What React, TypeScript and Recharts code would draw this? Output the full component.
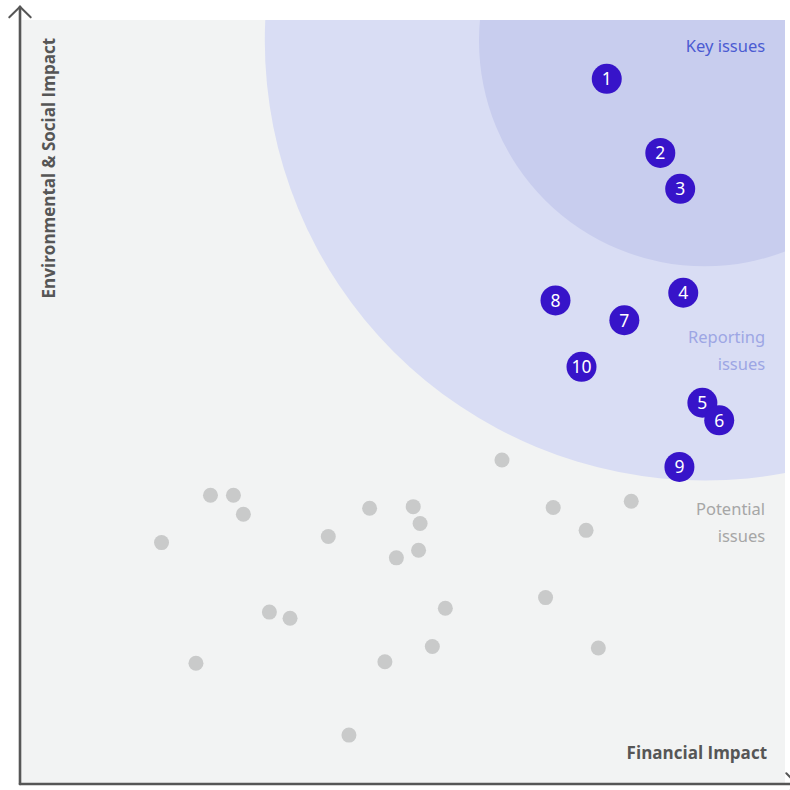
import {
  CartesianGrid,
  ReferenceLine,
  Scatter,
  ScatterChart,
  XAxis,
  YAxis,
} from "recharts";

const CHART_W = 790;
const CHART_H = 790;
const MARGIN = { top: 20, right: 5, bottom: 6, left: 20 };
const X_MAX = 100;
const Y_MAX = 100;
const PX_PER_UNIT = (CHART_W - MARGIN.left - MARGIN.right) / X_MAX;

// numbered material issues
const issueIds = [1, 2, 3, 4, 5, 6, 7, 8, 9, 10];
const issueFinancial = [76.7, 83.7, 86.3, 86.7, 89.2, 91.4, 79.0, 70.0, 86.2, 73.4];
const issueEnvSocial = [92.3, 82.6, 77.9, 64.3, 49.9, 47.6, 60.7, 63.3, 41.5, 54.6];

// un-numbered potential issues
const potentialFinancial = [
  63.0, 24.9, 27.9, 29.2, 18.5, 40.3, 45.7, 51.4, 52.3, 52.1, 49.2, 32.6,
  35.3, 23.0, 47.7, 53.9, 55.6, 69.7, 79.9, 74.0, 68.7, 75.6, 43.0,
];
const potentialEnvSocial = [
  42.4, 37.8, 37.8, 35.3, 31.6, 32.4, 36.1, 36.3, 34.1, 30.6, 29.6, 22.5,
  21.7, 15.8, 16.0, 18.0, 23.0, 36.2, 37.0, 33.2, 24.4, 17.8, 6.4,
];

// concentric zones around the top-right corner
const ringCenter = { x: 89.5, y: 97.3 };
const ringRadii = [57.5, 29.5]; // reporting zone, key zone

const zoneNames = [["Key issues"], ["Reporting", "issues"], ["Potential", "issues"]];
const zoneLabelX = [97.4, 97.4, 97.4];
const zoneLabelY = [95.8, 57.7, 35.2];

const axisTitles = ["Environmental & Social Impact", "Financial Impact"];
const axisTitleX = [4.6, 97.65];
const axisTitleY = [97.65, 3.3];

const ringColors = ["#d9ddf4", "#c8cdee"];
const zoneColors = ["#4b5bd2", "#9da6e4", "#a6a6a6"];
const AXIS_COLOR = "#565656";
const FONT = "'Noto Sans', 'Open Sans', sans-serif";

const issues = issueIds.map((id, i) => ({
  id,
  x: issueFinancial[i],
  y: issueEnvSocial[i],
}));
const potential = potentialFinancial.map((x, i) => ({ x, y: potentialEnvSocial[i] }));
const rings = ringRadii.map((r, i) => ({ x: ringCenter.x, y: ringCenter.y, r, idx: i }));
const zoneLabels = zoneNames.map((lines, i) => ({
  x: zoneLabelX[i],
  y: zoneLabelY[i],
  lines,
  idx: i,
}));
const titles = axisTitles.map((t, i) => ({ x: axisTitleX[i], y: axisTitleY[i], t, idx: i }));

// axis lines + arrow heads, in data units
const axisSegments = [
  { pts: [{ x: 0, y: 0 }, { x: 0, y: 101.74 }], w: 2.6 },
  { pts: [{ x: -1.4, y: 100.35 }, { x: 0, y: 101.74 }], w: 2 },
  { pts: [{ x: 1.4, y: 100.35 }, { x: 0, y: 101.74 }], w: 2 },
  { pts: [{ x: 0, y: 0 }, { x: 101.57, y: 0 }], w: 2.6 },
  { pts: [{ x: 100.17, y: 1.4 }, { x: 101.57, y: 0 }], w: 2 },
  { pts: [{ x: 100.17, y: -1.4 }, { x: 101.57, y: 0 }], w: 2 },
];

export default function App() {
  return (
    <div style={{ position: "absolute", left: 0, top: 0, background: "#fff" }}>
      <ScatterChart width={CHART_W} height={CHART_H} margin={MARGIN}>
        <CartesianGrid fill="#f2f3f3" horizontal={false} vertical={false} />
        <XAxis type="number" dataKey="x" domain={[0, X_MAX]} allowDataOverflow hide />
        <YAxis type="number" dataKey="y" domain={[0, Y_MAX]} allowDataOverflow hide />

        <Scatter
          data={rings}
          isAnimationActive={false}
          shape={(p: any) => (
            <circle
              cx={p.cx}
              cy={p.cy}
              r={p.payload.r * PX_PER_UNIT}
              fill={ringColors[p.payload.idx]}
            />
          )}
        />

        <Scatter
          data={potential}
          isAnimationActive={false}
          shape={(p: any) => <circle cx={p.cx} cy={p.cy} r={7.5} fill="#c9caca" />}
        />

        <Scatter
          data={issues}
          isAnimationActive={false}
          shape={(p: any) => (
            <g>
              <circle cx={p.cx} cy={p.cy} r={15} fill="#3714c9" />
              <text
                x={p.cx}
                y={p.cy}
                dy="0.36em"
                textAnchor="middle"
                fill="#fff"
                fontSize={17.5}
                fontFamily={FONT}
              >
                {p.payload.id}
              </text>
            </g>
          )}
        />

        <Scatter
          data={zoneLabels}
          isAnimationActive={false}
          shape={(p: any) => (
            <text
              x={p.cx}
              y={p.cy}
              textAnchor="end"
              fill={zoneColors[p.payload.idx]}
              fontSize={16.5}
              fontFamily={FONT}
            >
              {p.payload.lines.map((l: string, i: number) => (
                <tspan key={l} x={p.cx} dy={i ? 26.5 : 0}>
                  {l}
                </tspan>
              ))}
            </text>
          )}
        />

        <Scatter
          data={titles}
          isAnimationActive={false}
          shape={(p: any) => (
            <text
              x={p.cx}
              y={p.cy}
              textAnchor="end"
              fill={AXIS_COLOR}
              fontSize={17}
              fontWeight={700}
              fontFamily="'Open Sans', sans-serif"
              transform={p.payload.idx === 0 ? `rotate(-90 ${p.cx} ${p.cy})` : undefined}
            >
              {p.payload.t}
            </text>
          )}
        />

        {axisSegments.map((s, i) => (
          <ReferenceLine
            key={`axis-${i}`}
            segment={s.pts}
            ifOverflow="visible"
            stroke={AXIS_COLOR}
            strokeWidth={s.w}
            strokeLinecap="round"
          />
        ))}
      </ScatterChart>
    </div>
  );
}
